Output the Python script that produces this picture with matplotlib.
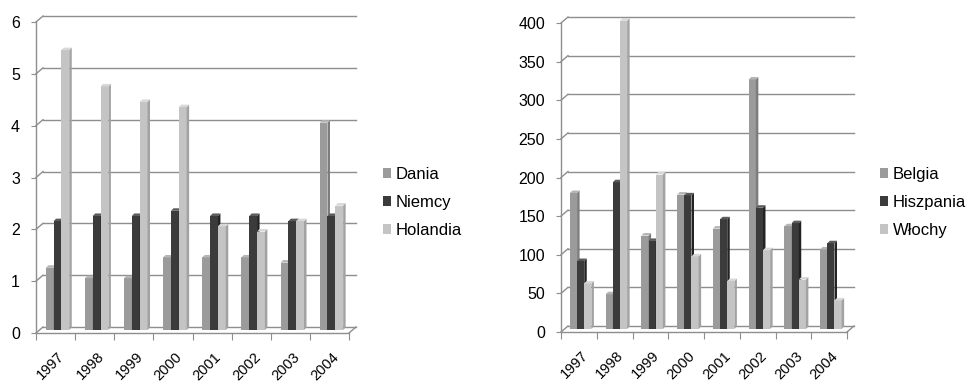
import matplotlib
matplotlib.use("Agg")
import matplotlib.pyplot as plt
from matplotlib.patches import Polygon, Patch

plt.rcParams["font.family"] = ["Liberation Sans", "DejaVu Sans"]

years = ["1997", "1998", "1999", "2000", "2001", "2002", "2003", "2004"]

# Left panel
left_names = ["Dania", "Niemcy", "Holandia"]
dania = [1.2, 1.0, 1.0, 1.4, 1.4, 1.4, 1.3, 4.0]
niemcy = [2.1, 2.2, 2.2, 2.3, 2.2, 2.2, 2.1, 2.2]
holandia = [5.4, 4.7, 4.4, 4.3, 2.0, 1.9, 2.1, 2.4]
left_ticks = [0, 1, 2, 3, 4, 5, 6]

# Right panel
right_names = ["Belgia", "Hiszpania", "Włochy"]
belgia = [176, 45, 121, 174, 130, 323, 133, 103]
hiszpania = [88, 190, 114, 173, 142, 157, 137, 111]
wlochy = [59, 399, 200, 94, 62, 102, 64, 37]
right_ticks = [0, 50, 100, 150, 200, 250, 300, 350, 400]

# front / side / top shades per series
shades = [
    ("#9b9b9b", "#7c7c7c", "#b5b5b5"),
    ("#3b3b3b", "#232323", "#5a5a5a"),
    ("#c4c4c4", "#a2a2a2", "#d8d8d8"),
]
line_col = "#8e8e8e"

W, H = 968, 383
fig = plt.figure(figsize=(W / 100, H / 100), dpi=100)


def px_units(ax, ymax):
    pos = ax.get_position()
    upx = 8 / (pos.width * W)
    upy = ymax / (pos.height * H)
    return upx, upy


def panel(rect, series, names, ticks, legend_xy):
    ax = fig.add_axes(rect)
    ymax = ticks[-1]
    n = len(years)
    ax.set_xlim(0, n)
    ax.set_ylim(0, ymax)
    upx, upy = px_units(ax, ymax)

    # back wall offset of the 3D box
    wx, wy = 7 * upx, 6 * upy
    for t in ticks:
        ax.plot([0, wx], [t, t + wy], color=line_col, lw=1, clip_on=False, zorder=1)
        ax.plot([wx, n + wx], [t + wy, t + wy], color=line_col, lw=1, clip_on=False, zorder=1)
    ax.plot([n, n + wx], [0, wy], color=line_col, lw=1, clip_on=False, zorder=1)

    # bars with a shaded side and top
    bw = 0.2
    dx, dy = 2.5 * upx, 2.5 * upy
    base = 3 * upy
    starts = [0.25, 0.45, 0.65]
    for k, vals in enumerate(series):
        front, side, top = shades[k]
        xs = [i + starts[k] for i in range(n)]
        z = 3 + k * 0.1
        ax.bar(xs, vals, width=bw, bottom=base, align="edge", color=front,
               edgecolor="none", zorder=z, clip_on=False)
        for x, v in zip(xs, vals):
            y1 = base + v
            ax.add_patch(Polygon([(x + bw, base), (x + bw + dx, base + dy),
                                  (x + bw + dx, y1 + dy), (x + bw, y1)],
                                 closed=True, color=side, lw=0, zorder=z, clip_on=False))
            ax.add_patch(Polygon([(x, y1), (x + dx, y1 + dy), (x + bw + dx, y1 + dy),
                                  (x + bw, y1)],
                                 closed=True, color=top, lw=0, zorder=z, clip_on=False))

    for s in ["top", "right"]:
        ax.spines[s].set_visible(False)
    for s in ["left", "bottom"]:
        ax.spines[s].set_color(line_col)
        ax.spines[s].set_linewidth(1)
        ax.spines[s].set_zorder(4)

    ax.set_yticks(ticks)
    ax.set_yticklabels([str(t) for t in ticks], fontsize=11.5)
    ax.tick_params(axis="y", direction="out", length=3.5, color=line_col, pad=8)

    ax.set_xticks(range(n + 1))
    ax.set_xticklabels([])
    ax.tick_params(axis="x", which="major", direction="out", length=5, color=line_col)
    ax.set_xticks([i + 0.55 for i in range(n)], minor=True)
    ax.set_xticklabels(years, minor=True, fontsize=10.5, rotation=45,
                       ha="right", va="top", rotation_mode="anchor")
    ax.tick_params(axis="x", which="minor", length=0, pad=12)
    ax.patch.set_visible(False)

    handles = [Patch(facecolor=shades[k][0], edgecolor="none") for k in range(3)]
    fig.legend(handles, names, loc="upper left",
               bbox_to_anchor=(legend_xy[0] / W, 1 - legend_xy[1] / H),
               frameon=False, fontsize=12, handlelength=0.5, handleheight=0.5,
               handletextpad=0.25, labelspacing=0.78, borderpad=0, borderaxespad=0)
    return ax


panel([36 / W, (H - 333) / H, 313 / W, 311 / H],
      [dania, niemcy, holandia], left_names, left_ticks, (383, 167))
panel([561 / W, (H - 332) / H, 286 / W, 309 / H],
      [belgia, hiszpania, wlochy], right_names, right_ticks, (880, 167))

fig.savefig("out.png", dpi=100)
